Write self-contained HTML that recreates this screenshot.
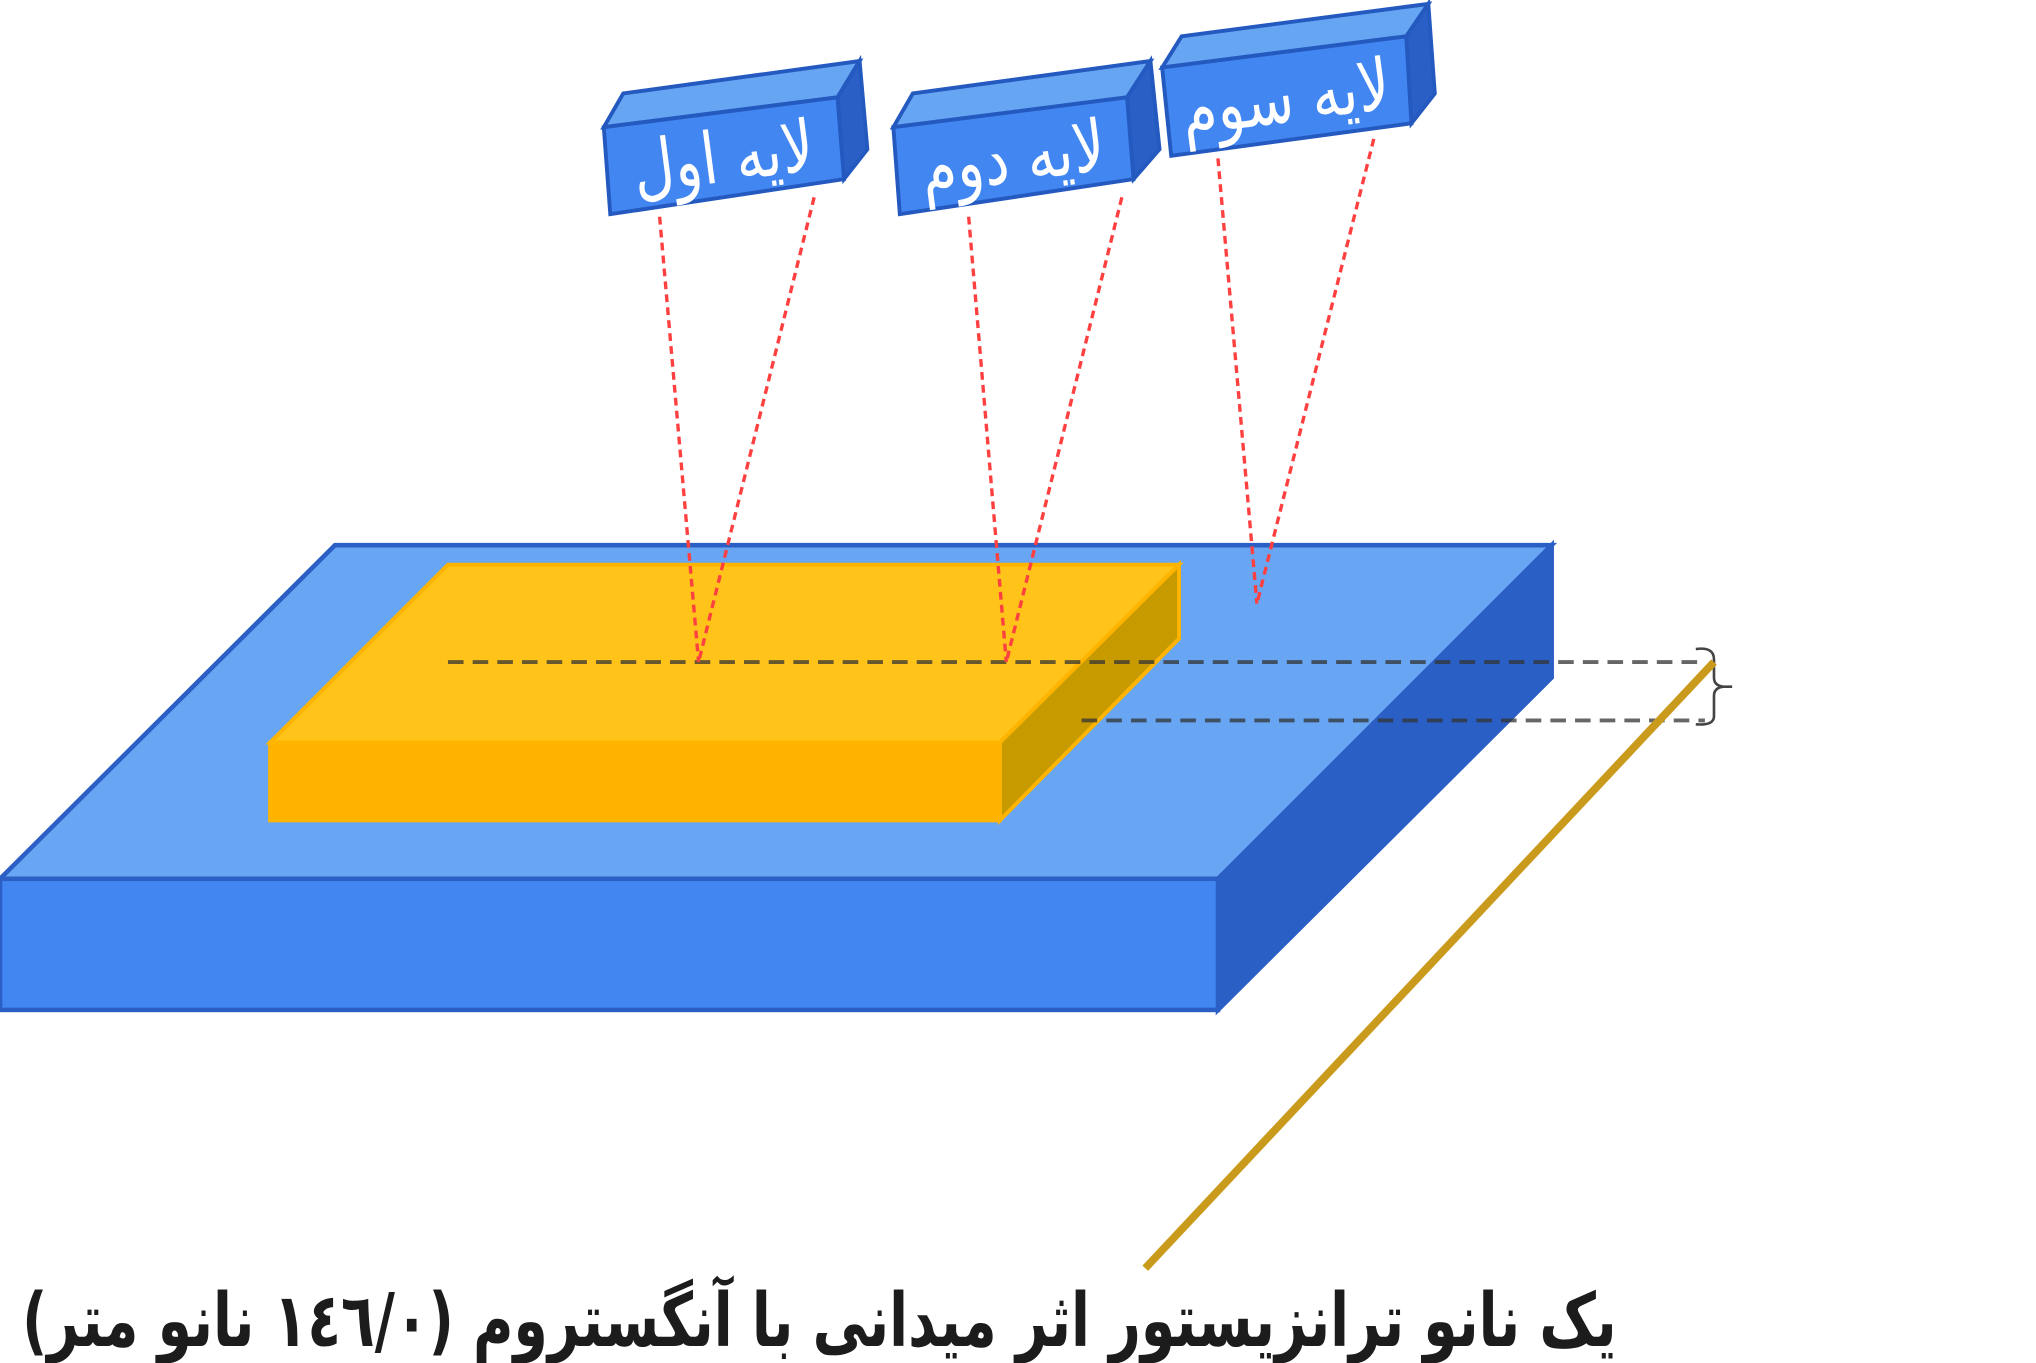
<!DOCTYPE html>
<html><head><meta charset="utf-8"><style>
html,body{margin:0;padding:0;background:#fff;}
svg{display:block;}
</style></head><body>
<svg width="2036" height="1363" viewBox="0 0 1568 1050" preserveAspectRatio="none" xmlns="http://www.w3.org/2000/svg">
<!-- base slab -->
<polygon points="0,677 258,420 1195,420 938,677" fill="#68a6f3" stroke="#2b5fc6" stroke-width="3.5"/>
<polygon points="938,677 1195,420 1195,522 938,778" fill="#2a5fc6" stroke="#2b5fc6" stroke-width="3.5"/>
<rect x="0" y="677" width="938" height="101" fill="#4286f2" stroke="#2b5fc6" stroke-width="3.5"/>
<!-- gold block -->
<polygon points="208,572 345,435 908,435 770,572" fill="#ffc31a" stroke="#ffb400" stroke-width="3"/>
<polygon points="770,572 908,435 908,492 770,632" fill="#c79a00" stroke="#ffb400" stroke-width="3"/>
<rect x="208" y="572" width="562" height="60" fill="#ffb300" stroke="#ffb400" stroke-width="3"/>
<!-- dashed lines -->
<line x1="345" y1="510" x2="1313" y2="510" stroke="#333" stroke-opacity="0.75" stroke-width="3" stroke-dasharray="12,7"/>
<line x1="833" y1="555" x2="1313" y2="555" stroke="#333" stroke-opacity="0.75" stroke-width="3" stroke-dasharray="12,7"/>
<path d="M1306,500 Q1320,498 1320,508 L1320,522 Q1320,528 1327,529 L1334,529 M1327,529 Q1320,530 1320,536 L1320,552 Q1320,559 1306,558" fill="none" stroke="#444" stroke-width="2"/>
<!-- gold line -->
<line x1="1320" y1="510" x2="882" y2="977" stroke="#c99a1c" stroke-width="6"/>
<!-- red dotted lines -->
<g stroke="#ff4040" stroke-width="2.6" stroke-dasharray="6,4" fill="none">
<line x1="508" y1="167" x2="538" y2="510"/>
<line x1="627" y1="152" x2="538" y2="510"/>
<line x1="746" y1="167" x2="775" y2="510"/>
<line x1="864" y1="152" x2="775" y2="510"/>
<line x1="938" y1="122" x2="968" y2="465"/>
<line x1="1058" y1="107" x2="968" y2="465"/>
</g>
<!-- boxes -->
<g stroke="#2459c0" stroke-width="3">
<polygon points="465,98 480,72 662,47 645,75" fill="#66a5f2"/>
<polygon points="645,75 662,47 668,115 650,138" fill="#2a5fc6"/>
<polygon points="465,98 645,75 650,138 470,165" fill="#4286f2"/>
<polygon points="688,98 703,72 886,47 868,75" fill="#66a5f2"/>
<polygon points="868,75 886,47 893,115 873,138" fill="#2a5fc6"/>
<polygon points="688,98 868,75 873,138 693,165" fill="#4286f2"/>
<polygon points="895,52 910,28 1100,3 1083,28" fill="#66a5f2"/>
<polygon points="1083,28 1100,3 1105,72 1087,95" fill="#2a5fc6"/>
<polygon points="895,52 1083,28 1087,95 902,120" fill="#4286f2"/>
</g>
<g fill="#fff" font-family="'DejaVu Sans',sans-serif" font-size="44" text-anchor="middle">
<text x="557" y="140" transform="rotate(-7.5 557 122) translate(557 140) scale(1,1.25) translate(-557 -140)">لایه اول</text>
<text x="780" y="140" transform="rotate(-7.5 780 122) translate(780 140) scale(1,1.25) translate(-780 -140)">لایه دوم</text>
<text x="990" y="94" transform="rotate(-7.5 990 76) translate(990 94) scale(1,1.25) translate(-990 -94)">لایه سوم</text>
</g>
<!-- caption -->
<text x="1245" y="1037" direction="rtl" text-anchor="start" font-family="'DejaVu Sans','Liberation Sans',sans-serif" font-weight="bold" font-size="44" fill="#1c1c1c" textLength="1228" lengthAdjust="spacingAndGlyphs" transform="translate(0 1037) scale(1,1.3) translate(0 -1037)">یک نانو ترانزیستور اثر میدانی با آنگستروم (١٤٦/٠ نانو متر)</text>
</svg>
</body></html>
